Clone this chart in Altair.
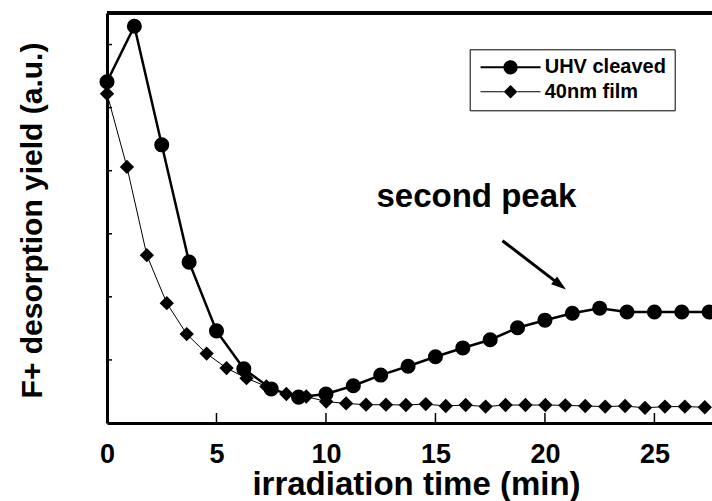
import altair as alt
import pandas as pd

# ---------------- data ----------------
uhv_time = [0, 1.25, 2.5, 3.75, 5, 6.25, 7.5, 8.75, 10, 11.25, 12.5, 13.75, 15,
            16.25, 17.5, 18.75, 20, 21.25, 22.5, 23.75, 25, 26.25, 27.5]
uhv_yield = [5.41, 6.29, 4.41, 2.55, 1.46, 0.86, 0.54, 0.41, 0.46, 0.59, 0.76, 0.90,
             1.05, 1.19, 1.32, 1.51, 1.63, 1.74, 1.82, 1.76, 1.76, 1.76, 1.76]

film_time = [0, 0.91, 1.82, 2.73, 3.64, 4.55, 5.46, 6.37, 7.28, 8.19, 9.10, 10.01,
             10.92, 11.83, 12.74, 13.65, 14.56, 15.47, 16.38, 17.29, 18.20, 19.11,
             20.02, 20.93, 21.84, 22.75, 23.66, 24.57, 25.48, 26.39, 27.30]
film_yield = [5.22, 4.06, 2.66, 1.90, 1.41, 1.10, 0.87, 0.71, 0.58, 0.46, 0.42, 0.34,
              0.31, 0.29, 0.29, 0.285, 0.30, 0.27, 0.285, 0.26, 0.285, 0.285, 0.285,
              0.28, 0.27, 0.26, 0.27, 0.24, 0.26, 0.26, 0.25]

series_names = ["UHV cleaved", "40nm film"]
x_tick_values = [0, 5, 10, 15, 20, 25]
x_inner_ticks = [5, 10, 15, 20, 25]
y_inner_ticks = [1, 2, 3, 4, 5, 6]

annotation_text = ["second peak"]
annotation_t = [16.87]
annotation_v = [3.42]
arrow_start = [18.06, 2.89]
arrow_end = [20.69, 2.19]

x_domain = [0, 27.63]
y_domain = [0, 6.5]

FONT = "Liberation Sans"
W, H = 605, 410

uhv_df = pd.DataFrame({"t": uhv_time, "v": uhv_yield})
film_df = pd.DataFrame({"t": film_time, "v": film_yield})
legend_df = pd.DataFrame({"t": [-5, -5], "v": [1, 1], "series": series_names})
xt_df = pd.DataFrame({"t": x_inner_ticks})
yt_df = pd.DataFrame({"v": y_inner_ticks})
ann_df = pd.DataFrame({"t": annotation_t, "v": annotation_v, "label": annotation_text})
arrow_df = pd.DataFrame({"t": [arrow_start[0]], "v": [arrow_start[1]],
                         "t2": [arrow_end[0]], "v2": [arrow_end[1]]})
head_df = pd.DataFrame({"t": [arrow_end[0]], "v": [arrow_end[1]]})

x_axis = alt.Axis(values=x_tick_values, ticks=False, tickSize=0, grid=False,
                  domainColor="black", domainWidth=3, labelFont=FONT,
                  labelFontSize=27, labelFontWeight="bold", labelColor="black",
                  labelPadding=18, labelFlush=False, labelAngle=0,
                  titleFont=FONT, titleFontSize=33, titleFontWeight="bold",
                  titleColor="black", titleX=309, titleY=71,
                  titleBaseline="alphabetic", titleAlign="center")
y_axis = alt.Axis(labels=False, ticks=False, tickSize=0, grid=False,
                  domainColor="black", domainWidth=3,
                  titleFont=FONT, titleFontSize=30, titleFontWeight="bold",
                  titleColor="black", titleX=-66, titleY=207,
                  titleBaseline="alphabetic", titleAlign="center")

x_enc = alt.X("t:Q", scale=alt.Scale(domain=x_domain, nice=False, zero=False),
              axis=x_axis, title="irradiation time (min)")
y_enc = alt.Y("v:Q", scale=alt.Scale(domain=y_domain, nice=False, zero=False),
              axis=y_axis, title="F+ desorption yield (a.u.)")

# legend symbols: line + marker as custom paths (unit = sqrt(size)/2)
uhv_path = ("M-1,-0.15H2.2V0.15H-1Z M4.2,-0.15H7.4V0.15H4.2Z "
            "M2.2,0A1,1,0,1,1,4.2,0A1,1,0,1,1,2.2,0Z")
film_path = ("M-1,-0.07H2.25V0.07H-1Z M4.15,-0.07H7.4V0.07H4.15Z "
             "M2.25,0L3.2,-0.95L4.15,0L3.2,0.95Z")

film_line = alt.Chart(film_df).mark_line(color="black", strokeWidth=1).encode(x=x_enc, y=y_enc)
film_pts = alt.Chart(film_df).mark_point(shape="diamond", filled=True, color="black",
                                         size=205, opacity=1).encode(x=x_enc, y=y_enc)
uhv_line = alt.Chart(uhv_df).mark_line(color="black", strokeWidth=2.5).encode(x=x_enc, y=y_enc)
uhv_pts = alt.Chart(uhv_df).mark_point(shape="circle", filled=True, color="black",
                                       size=227, opacity=1).encode(x=x_enc, y=y_enc)

legend_layer = alt.Chart(legend_df).mark_point(filled=True, color="black", size=204,
                                               opacity=1, clip=True).encode(
    x=x_enc, y=y_enc,
    shape=alt.Shape("series:N",
                    scale=alt.Scale(domain=series_names, range=[uhv_path, film_path]),
                    legend=alt.Legend(title=None, orient="none", legendX=362.7, legendY=36.3,
                                      direction="vertical", strokeColor="black",
                                      padding=8, rowPadding=4.4, labelOffset=47,
                                      labelFont=FONT, labelFontSize=20,
                                      labelFontWeight="bold", labelColor="black",
                                      symbolSize=204, symbolFillColor="black",
                                      symbolStrokeWidth=0, symbolOpacity=1)))

x_ticks = alt.Chart(xt_df).mark_rule(color="black", strokeWidth=1.5).encode(
    x=x_enc, y=alt.value(H), y2=alt.value(H - 10))
y_ticks = alt.Chart(yt_df).mark_rule(color="black", strokeWidth=1.5).encode(
    y=y_enc, x=alt.value(0), x2=alt.value(5))
top_frame = alt.Chart(xt_df).mark_rule(color="black", strokeWidth=3).encode(
    x=alt.value(0), x2=alt.value(W), y=alt.value(0))

ann = alt.Chart(ann_df).mark_text(font=FONT, fontSize=33, fontWeight="bold", color="black",
                                  align="center", baseline="alphabetic").encode(
    x=x_enc, y=y_enc, text="label:N")
arrow = alt.Chart(arrow_df).mark_rule(color="black", strokeWidth=3).encode(
    x=x_enc, y=y_enc, x2="t2:Q", y2="v2:Q")
head = alt.Chart(head_df).mark_point(shape="M0,-1L0.65,1L-0.65,1Z", filled=True,
                                     color="black", size=225, angle=127.5,
                                     opacity=1).encode(x=x_enc, y=y_enc)

chart = alt.layer(
    film_line, film_pts, uhv_line, uhv_pts, legend_layer,
    x_ticks, y_ticks, top_frame, ann, arrow, head
).properties(
    width=W, height=H,
    padding={"left": 107, "top": 13, "right": 0, "bottom": 78},
    autosize=alt.AutoSizeParams(type="none"),
    background="white",
).configure_view(strokeWidth=0).configure(font=FONT)

chart.save("out.html", embed_options={"renderer": "svg", "actions": False})
